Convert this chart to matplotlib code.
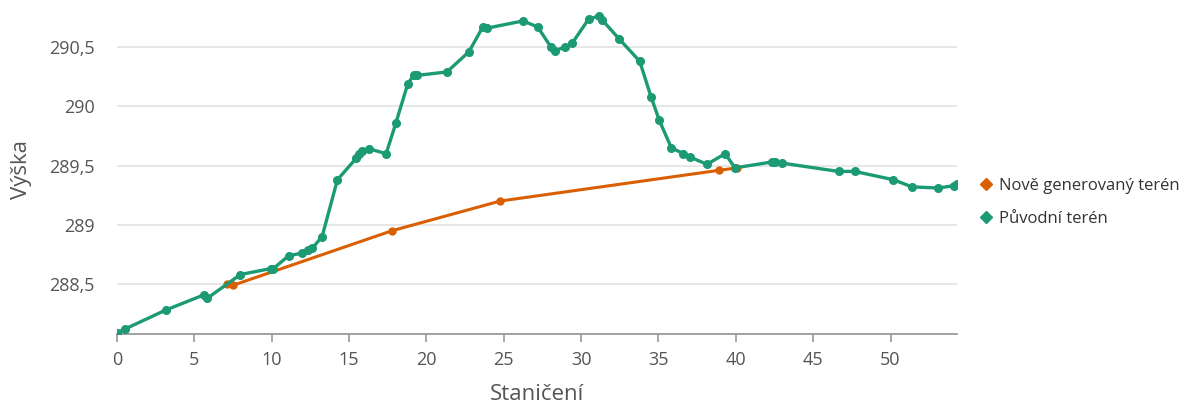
import matplotlib
matplotlib.use("Agg")
import matplotlib.pyplot as plt
from matplotlib.lines import Line2D
from matplotlib.ticker import FuncFormatter

# Original terrain profile (station, elevation)
puvodni_x = [0.02, 0.52, 3.15, 5.65, 5.84, 7.98, 9.94, 10.11, 11.11, 11.97, 12.35, 12.61,
             13.26, 14.25, 15.46, 15.63, 15.85, 16.32, 17.40, 18.03, 18.80, 19.17, 19.38,
             21.33, 22.75, 23.65, 23.95, 26.24, 27.19, 28.05, 28.31, 28.98, 29.41, 30.51,
             31.18, 31.35, 32.45, 33.79, 34.52, 35.06, 35.83, 36.61, 37.06, 38.14, 39.31,
             39.95, 42.34, 42.54, 43.01, 46.64, 47.69, 50.19, 51.38, 53.09, 54.10, 54.31]
puvodni_y = [288.09, 288.12, 288.28, 288.41, 288.38, 288.58, 288.63, 288.63, 288.74, 288.76,
             288.79, 288.80, 288.90, 289.38, 289.56, 289.60, 289.62, 289.64, 289.60, 289.86,
             290.19, 290.26, 290.26, 290.29, 290.46, 290.67, 290.66, 290.72, 290.67, 290.50,
             290.47, 290.50, 290.53, 290.74, 290.76, 290.73, 290.57, 290.38, 290.08, 289.88,
             289.65, 289.60, 289.57, 289.51, 289.60, 289.48, 289.53, 289.53, 289.52, 289.45,
             289.45, 289.38, 289.32, 289.31, 289.33, 289.34]

# Newly generated terrain
novy_x = [7.10, 7.52, 17.79, 24.77, 38.94, 40.08]
novy_y = [288.50, 288.49, 288.95, 289.20, 289.46, 289.48]

x_ticks = [0, 5, 10, 15, 20, 25, 30, 35, 40, 45, 50]
y_ticks = [288.5, 289.0, 289.5, 290.0, 290.5]

GREEN = "#1b9a74"
ORANGE = "#d95f02"
TEXT = "#555555"
FONT = "Open Sans"

plt.rcParams["font.family"] = [FONT, "DejaVu Sans"]

fig = plt.figure(figsize=(12.02, 4.05), dpi=100)
ax = fig.add_axes([0.0973, 0.1753, 0.6989, 0.811])

ax.plot(novy_x, novy_y, color=ORANGE, lw=2.2, marker="o", ms=5, zorder=3)
ax.plot(puvodni_x, puvodni_y, color=GREEN, lw=2.4, marker="o", ms=5.5, zorder=4)

ax.set_xlim(0, 54.3)
ax.set_ylim(288.078, 290.85)
ax.set_xticks(x_ticks)
ax.set_yticks(y_ticks)


def cz(v, pos):
    s = f"{v:g}"
    return s.replace(".", ",")


ax.yaxis.set_major_formatter(FuncFormatter(cz))
ax.xaxis.set_major_formatter(FuncFormatter(cz))

ax.grid(axis="y", color="#e3e3e3", lw=1.2)
ax.set_axisbelow(True)
for side in ("top", "right", "left"):
    ax.spines[side].set_visible(False)
ax.spines["bottom"].set_color("#999999")
ax.spines["bottom"].set_linewidth(1.3)

ax.tick_params(axis="x", colors="#999999", length=6, width=1.2, labelsize=13,
               labelcolor=TEXT, pad=6)
ax.tick_params(axis="y", length=0, labelsize=13, labelcolor=TEXT, pad=16)

ax.set_xlabel("Staničení", fontsize=16, color=TEXT, labelpad=11)
ax.set_ylabel("Výška", fontsize=16, color=TEXT)
ax.yaxis.set_label_coords(-0.101, 0.5)

handles = [
    Line2D([], [], color=ORANGE, marker="D", ms=6, lw=0),
    Line2D([], [], color=GREEN, marker="D", ms=6, lw=0),
]
fig.legend(handles, ["Nově generovaný terén", "Původní terén"],
           loc="center left", bbox_to_anchor=(0.804, 0.5), frameon=False,
           fontsize=12, labelcolor="#333333", handlelength=0.6,
           handletextpad=0.45, labelspacing=1.05)

fig.savefig("out.png", dpi=100)
